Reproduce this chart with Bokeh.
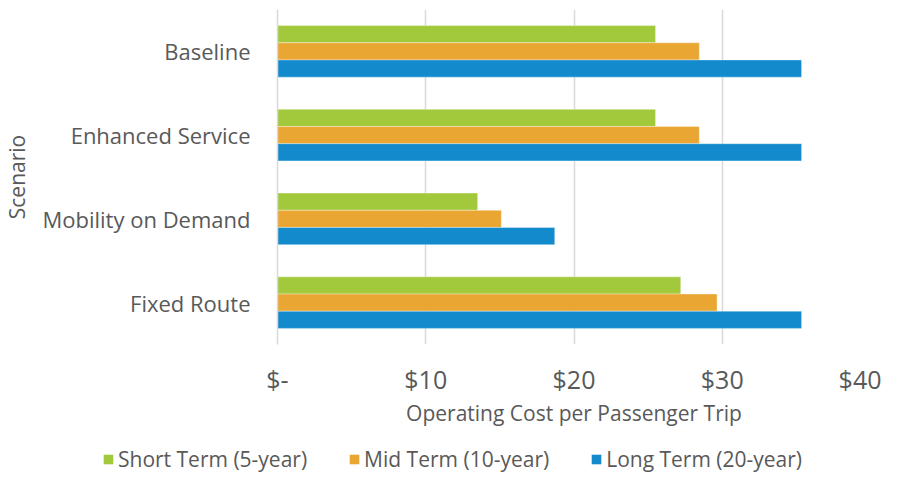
from bokeh.plotting import figure
from bokeh.layouts import column
from bokeh.models import FactorRange, Legend, LegendItem, FixedTicker, ColumnDataSource, Range1d
from bokeh.transform import dodge
from bokeh.embed import file_html
from bokeh.resources import INLINE

scenarios = ["Baseline", "Enhanced Service", "Mobility on Demand", "Fixed Route"]
short_term = [25.5, 25.5, 13.5, 27.2]
mid_term = [28.45, 28.45, 15.1, 29.65]
long_term = [35.35, 35.35, 18.7, 35.35]
series_names = ["Short Term (5-year)", "Mid Term (10-year)", "Long Term (20-year)"]
colors = ["#A2C93C", "#EAA632", "#128ACC"]
x_ticks = [0, 10, 20, 30, 40]
x_tick_labels = ["$-", "$10", "$20", "$30", "$40"]

FONT = "Open Sans"
TXT = "#595959"

src = ColumnDataSource(dict(cat=scenarios, s=short_term, m=mid_term, l=long_term))

p = figure(width=881, height=430, output_backend="svg", toolbar_location=None, title=None,
           y_range=FactorRange(*list(reversed(scenarios)), range_padding=0),
           x_range=(0, 40),
           min_border_left=273, min_border_right=11, min_border_top=9, min_border_bottom=86)

bh = 0.205
for key, off, col in zip(["s", "m", "l"], [bh, 0, -bh], colors):
    p.hbar(y=dodge("cat", off, range=p.y_range), left=0, right=key, height=bh,
           source=src, fill_color=col, line_color="#FFFFFF", line_alpha=0.35, line_width=1)

p.outline_line_color = None
p.ygrid.grid_line_color = None
p.xgrid.grid_line_color = "#D9D9D9"
p.xgrid.grid_line_width = 1.5
p.xaxis.ticker = FixedTicker(ticks=x_ticks)
p.xaxis.major_label_overrides = {t: l for t, l in zip(x_ticks, x_tick_labels)}

p.xaxis.axis_line_color = None
p.xaxis.major_tick_line_color = None
p.xaxis.minor_tick_line_color = None
p.xaxis.major_tick_out = 0
p.xaxis.major_label_text_font = FONT
p.xaxis.major_label_text_font_size = "25px"
p.xaxis.major_label_text_color = TXT
p.xaxis.major_label_standoff = 17
p.xaxis.axis_label = "Operating Cost per Passenger Trip"
p.xaxis.axis_label_text_font = FONT
p.xaxis.axis_label_text_font_size = "21px"
p.xaxis.axis_label_text_font_style = "normal"
p.xaxis.axis_label_text_color = TXT
p.xaxis.axis_label_standoff = 0

p.yaxis.axis_line_color = "#D9D9D9"
p.yaxis.axis_line_width = 1.5
p.yaxis.major_tick_line_color = None
p.yaxis.minor_tick_line_color = None
p.yaxis.major_tick_out = 0
p.yaxis.major_label_text_font = FONT
p.yaxis.major_label_text_font_size = "22px"
p.yaxis.major_label_text_color = TXT
p.yaxis.major_label_standoff = 27
p.yaxis.axis_label = "Scenario"
p.yaxis.axis_label_text_font = FONT
p.yaxis.axis_label_text_font_size = "21px"
p.yaxis.axis_label_text_font_style = "normal"
p.yaxis.axis_label_text_color = TXT
p.yaxis.axis_label_standoff = 8

# legend strip (its bars lie outside its visible range; only the legend shows)
lg = figure(width=881, height=43, output_backend="svg", toolbar_location=None, title=None,
            x_range=Range1d(-2, -1), y_range=Range1d(0, 1),
            min_border_left=0, min_border_right=0, min_border_top=0, min_border_bottom=0)
try:
    lg.frame_align = False
except Exception:
    pass
lg.axis.visible = False
lg.grid.visible = False
lg.outline_line_color = None
lrs = [lg.hbar(y=0.5, left=0, right=key, height=0.5, source=src, fill_color=c, line_color=None)
       for key, c in zip(["s", "m", "l"], colors)]
legend = Legend(items=[LegendItem(label=n, renderers=[r]) for n, r in zip(series_names, lrs)],
                orientation="horizontal", location=(102, 0),
                label_text_font=FONT, label_text_font_size="21px", label_text_color=TXT,
                glyph_width=12, glyph_height=12, label_standoff=4, spacing=41,
                padding=0, margin=0, border_line_color=None, background_fill_alpha=0)
lg.add_layout(legend, "center")

layout = column(p, lg, spacing=0)
open("out.html", "w").write(file_html(layout, INLINE))
